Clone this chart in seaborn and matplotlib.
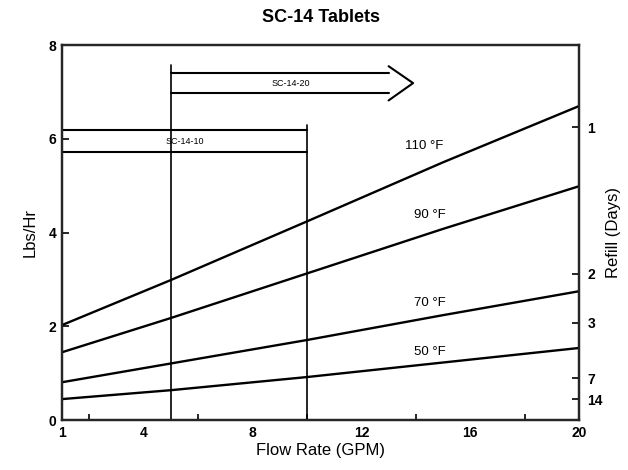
import pandas as pd
import seaborn as sns
import matplotlib.pyplot as plt

# flow rate (GPM) and feed rate (lbs/hr)
flow = [1, 5, 10, 15, 20]
rate_110 = [2.03, 2.99, 4.24, 5.50, 6.70]
rate_90 = [1.45, 2.18, 3.13, 4.08, 4.99]
rate_70 = [0.81, 1.21, 1.71, 2.24, 2.75]
rate_50 = [0.45, 0.64, 0.92, 1.23, 1.54]
temps = ["110 °F", "90 °F", "70 °F", "50 °F"]

# refill days on the right axis
refill_days = [1, 2, 3, 7, 14]
capacity_lbs = 150

x_ticks = [1, 4, 8, 12, 16, 20]
y_ticks = [0, 2, 4, 6, 8]

df = pd.DataFrame({
    "flow": flow * 4,
    "rate": rate_110 + rate_90 + rate_70 + rate_50,
    "temp": [t for t in temps for _ in flow],
})

sns.set_style("white")
plt.rcParams["font.family"] = ["Liberation Sans", "DejaVu Sans"]
plt.rcParams.update({"text.color": "black", "axes.labelcolor": "black",
                     "xtick.color": "black", "ytick.color": "black"})

fig = plt.figure(figsize=(6.28, 4.70), dpi=100)
ax = fig.add_axes([0.099, 0.106, 0.823, 0.798])

sns.lineplot(data=df, x="flow", y="rate", units="temp", estimator=None,
             color="black", lw=1.7, ax=ax, legend=False)

# temperature labels
label_pos = {"110 °F": (14.3, 5.85), "90 °F": (14.5, 4.37),
             "70 °F": (14.5, 2.50), "50 °F": (14.5, 1.45)}
for t in temps:
    lx, ly = label_pos[t]
    ax.text(lx, ly, t, ha="center", va="center", fontsize=9.5)

# SC-14-10 range box (1 to 10 GPM)
ax.plot([1, 10], [6.18, 6.18], color="black", lw=1.5)
ax.plot([1, 10], [5.71, 5.71], color="black", lw=1.5)
ax.plot([10, 10], [0, 6.3], color="black", lw=1.2)
ax.text(5.5, 5.95, "SC-14-10", ha="center", va="center", fontsize=6.5)

# SC-14-20 arrow (5 GPM and up)
ax.plot([5, 5], [0, 7.57], color="black", lw=1.2)
ax.plot([5, 13.0], [7.40, 7.40], color="black", lw=1.5)
ax.plot([5, 13.0], [6.97, 6.97], color="black", lw=1.5)
ax.plot([13.0, 13.9, 13.0], [7.55, 7.19, 6.82], color="black", lw=1.5)
ax.text(9.4, 7.19, "SC-14-20", ha="center", va="center", fontsize=6.5)

ax.set_xlim(1, 20)
ax.set_ylim(0, 8)
ax.set_xticks(x_ticks)
ax.set_xticks([2, 6, 10, 14, 18], minor=True)
ax.set_yticks(y_ticks)
ax.tick_params(axis="both", which="major", direction="in", length=5, width=1.2,
               labelsize=10, pad=4)
ax.tick_params(axis="x", which="minor", direction="in", length=4, width=1.2, bottom=True)
for lab in ax.get_xticklabels() + ax.get_yticklabels():
    lab.set_fontweight("bold")
for s in ax.spines.values():
    s.set_linewidth(1.6)
    s.set_color("black")

ax.set_xlabel("Flow Rate (GPM)", fontsize=12, labelpad=2)
ax.set_ylabel("Lbs/Hr", fontsize=12, labelpad=8)
ax.set_title("SC-14 Tablets", fontsize=13, fontweight="bold", pad=17)

ax2 = ax.twinx()
ax2.set_ylim(0, 8)
ax2.set_yticks([capacity_lbs / (24 * d) for d in refill_days])
ax2.set_yticklabels([str(d) for d in refill_days], fontweight="bold")
ax2.tick_params(axis="y", direction="in", length=5, width=1.2, labelsize=10, pad=6)
ax2.set_ylabel("Refill (Days)", fontsize=12, labelpad=2)
for s in ax2.spines.values():
    s.set_linewidth(1.6)

fig.savefig("out.png", dpi=100)
